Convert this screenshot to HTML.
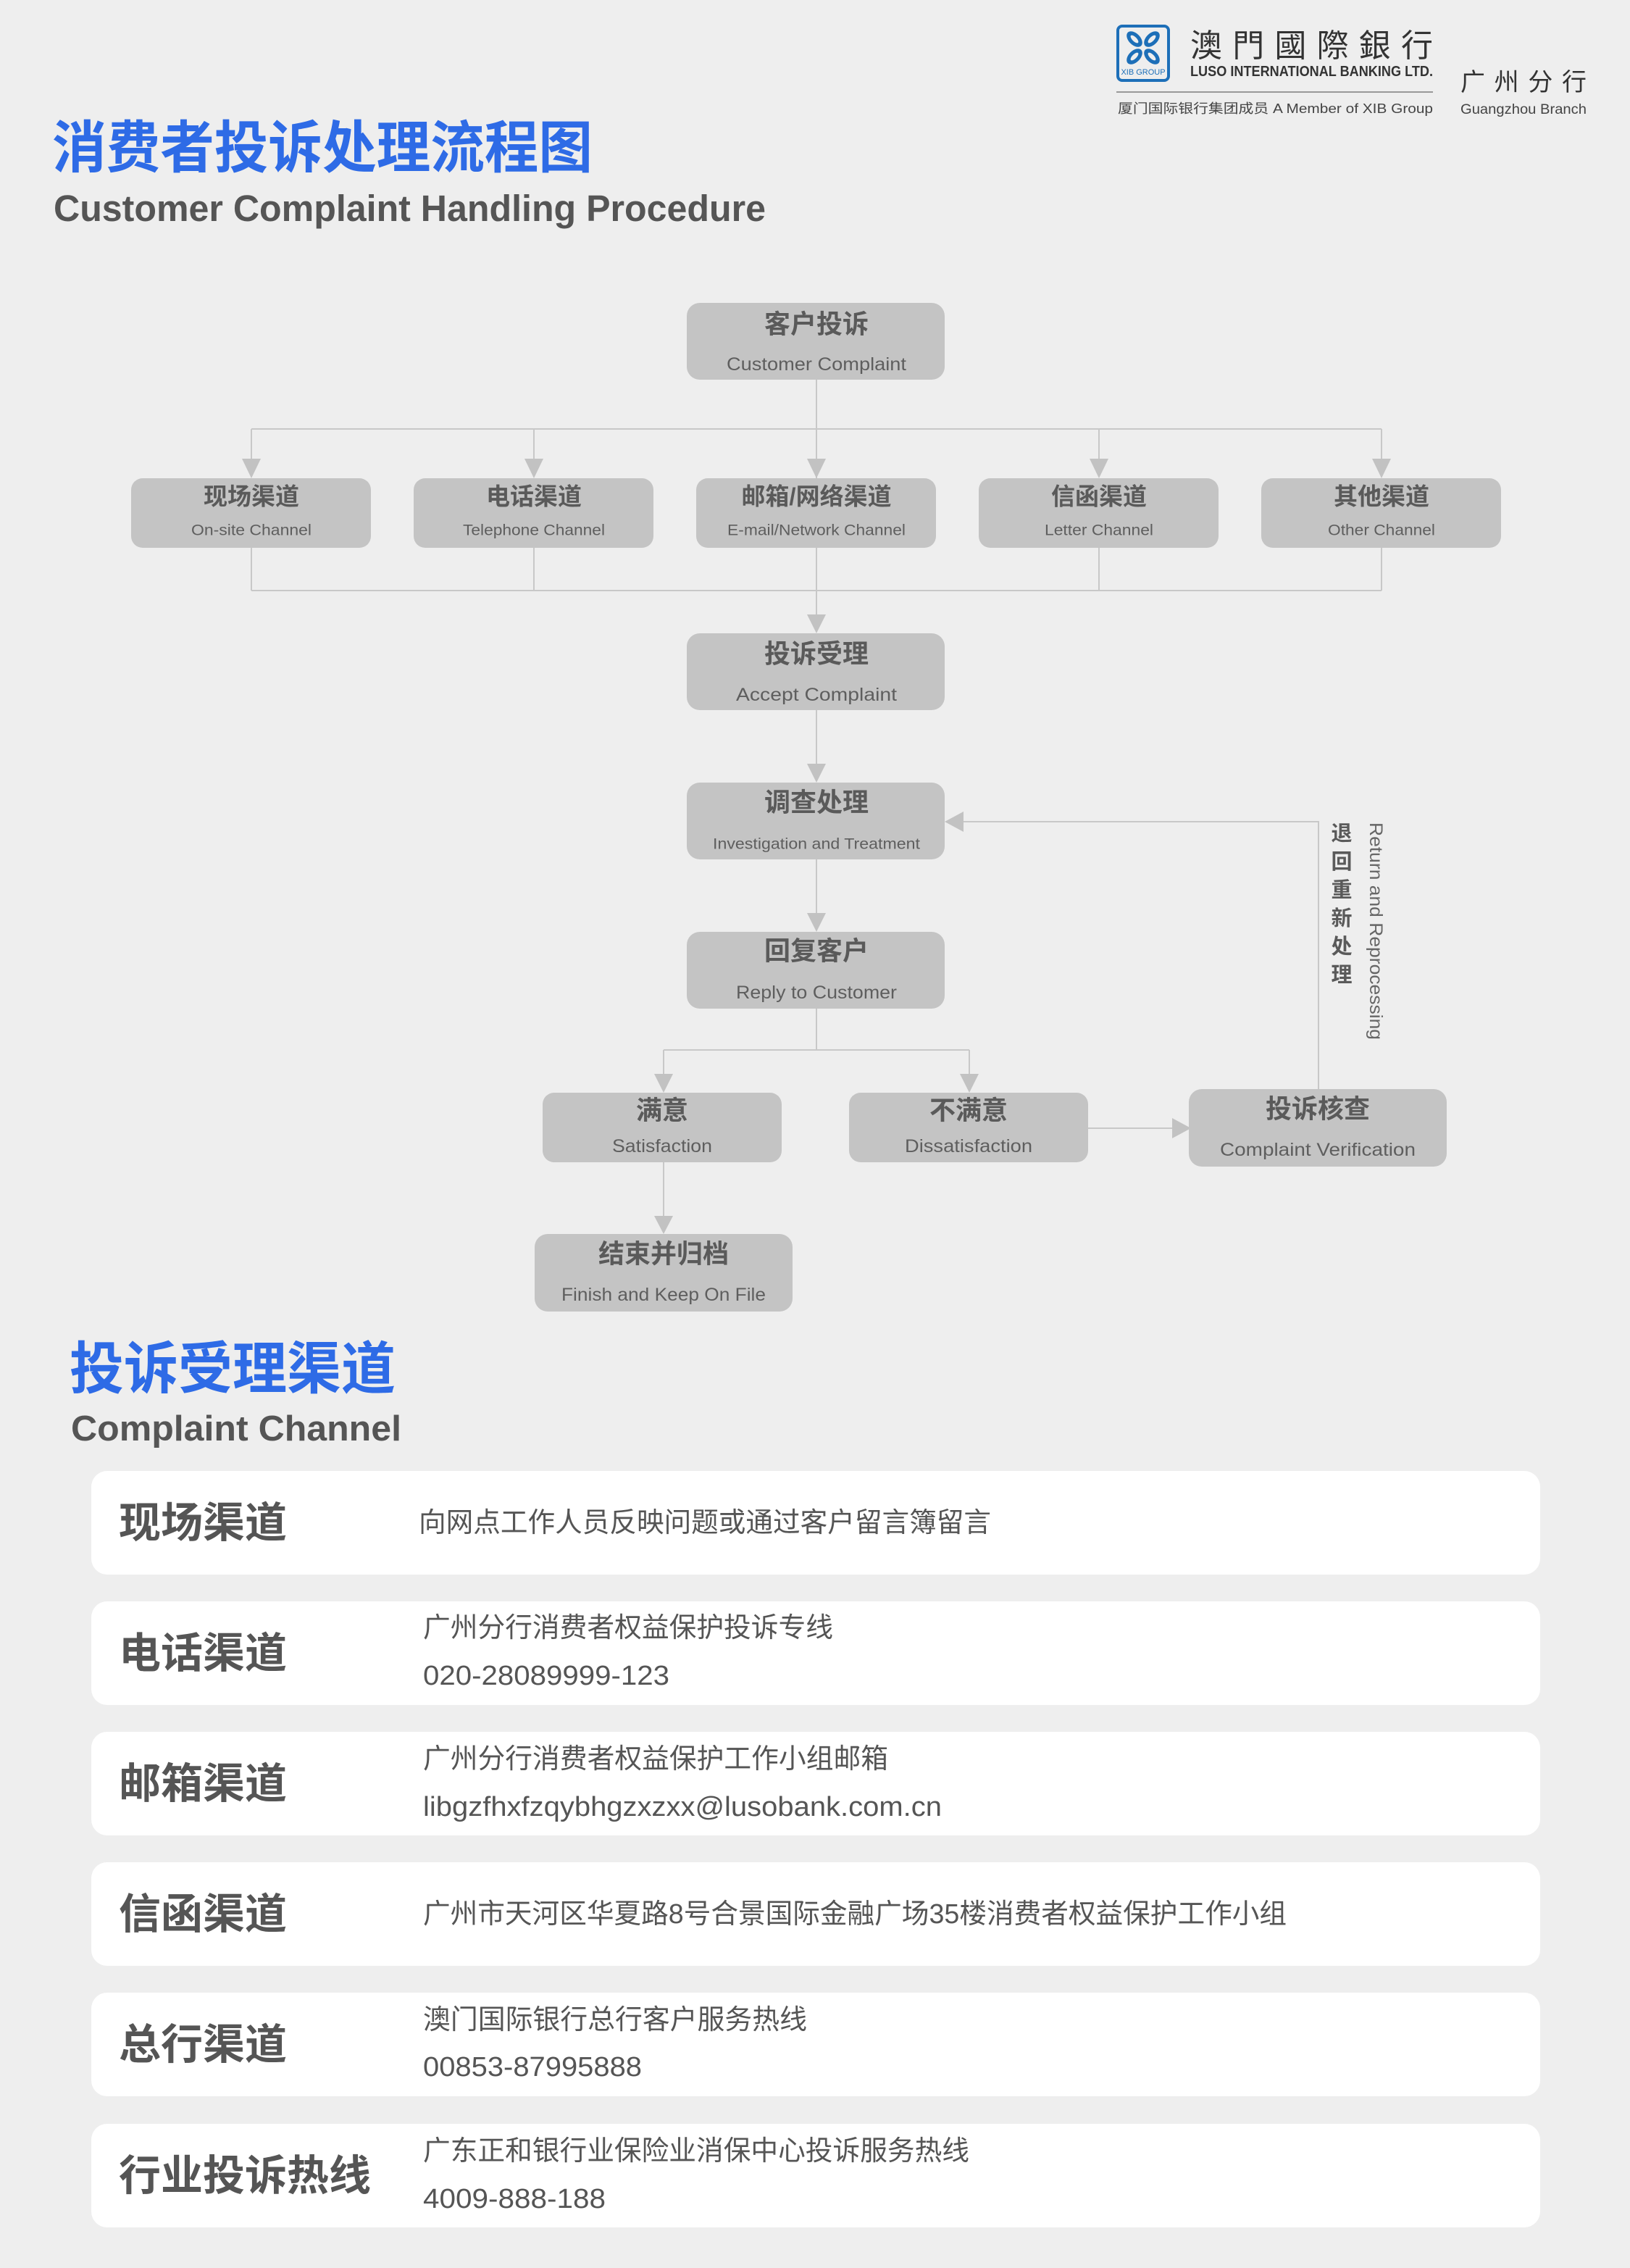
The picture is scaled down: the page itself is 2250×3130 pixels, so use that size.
<!DOCTYPE html>
<html><head><meta charset="utf-8"><style>
html,body{margin:0;padding:0;background:#eeeeee;}
svg{display:block;}
text{font-family:"Liberation Sans","Noto Sans CJK SC",sans-serif;}
.cn{font-weight:bold;fill:#5a5a5a;font-size:36px;text-anchor:middle;dominant-baseline:central;}
.cns{font-weight:bold;fill:#5a5a5a;font-size:33px;text-anchor:middle;dominant-baseline:central;}
.en{fill:#5e5e5e;font-size:25px;text-anchor:middle;dominant-baseline:central;}
.ens{fill:#5e5e5e;font-size:21px;text-anchor:middle;dominant-baseline:central;}
.node{fill:#c4c4c4;}
.ln{stroke:#c8c8c8;stroke-width:2;fill:none;}
.ar{fill:#c2c2c2;}
.lab{font-weight:bold;fill:#555;font-size:58px;dominant-baseline:central;}
.ct{fill:#555;font-size:38px;dominant-baseline:central;}
</style></head><body>
<svg width="2250" height="3130" viewBox="0 0 2250 3130" xmlns="http://www.w3.org/2000/svg">
<rect width="2250" height="3130" fill="#eeeeee"/>

<!-- Logo -->
<rect x="1543" y="36" width="70" height="75" rx="6" fill="none" stroke="#1d6fb8" stroke-width="4"/>
<g fill="#1d6fb8" transform="translate(1578,66)">
<ellipse cx="-12" cy="-12" rx="8" ry="13" transform="rotate(-45 -12 -12)"/>
<ellipse cx="12" cy="-12" rx="8" ry="13" transform="rotate(45 12 -12)"/>
<ellipse cx="-12" cy="12" rx="8" ry="13" transform="rotate(45 -12 12)"/>
<ellipse cx="12" cy="12" rx="8" ry="13" transform="rotate(-45 12 12)"/>
</g>
<g fill="#eeeeee" transform="translate(1578,66)">
<ellipse cx="-12" cy="-12" rx="3" ry="7" transform="rotate(-45 -12 -12)"/>
<ellipse cx="12" cy="-12" rx="3" ry="7" transform="rotate(45 12 -12)"/>
<ellipse cx="-12" cy="12" rx="3" ry="7" transform="rotate(45 -12 12)"/>
<ellipse cx="12" cy="12" rx="3" ry="7" transform="rotate(-45 12 12)"/>
</g>
<text x="1578" y="103" font-size="11" fill="#1d6fb8" text-anchor="middle">XIB GROUP</text>
<text x="1643" y="78" font-size="44" fill="#333" textLength="335" lengthAdjust="spacing">澳門國際銀行</text>
<text x="1643" y="105" font-size="20" font-weight="bold" fill="#333" textLength="335" lengthAdjust="spacingAndGlyphs">LUSO INTERNATIONAL BANKING LTD.</text>
<rect x="1541" y="126" width="437" height="2" fill="#999"/>
<text x="1543" y="156" font-size="18" fill="#444" textLength="435" lengthAdjust="spacingAndGlyphs">厦门国际银行集团成员 A Member of XIB Group</text>
<text x="2016" y="125" font-size="34" fill="#333" textLength="174" lengthAdjust="spacing">广州分行</text>
<text x="2016" y="157" font-size="19" fill="#444" textLength="174" lengthAdjust="spacingAndGlyphs">Guangzhou Branch</text>

<!-- Titles -->
<text x="72" y="231" font-size="78" font-weight="bold" fill="#2e6be6" textLength="746" lengthAdjust="spacingAndGlyphs">消费者投诉处理流程图</text>
<text x="74" y="305" font-size="51" font-weight="bold" fill="#555" textLength="983" lengthAdjust="spacingAndGlyphs">Customer Complaint Handling Procedure</text>

<!-- Connectors -->
<g class="ln">
<path d="M1127 524 V660"/>
<path d="M347 592 H1907"/>
<path d="M347 592 V640 M737 592 V640 M1517 592 V640 M1907 592 V640"/>
<path d="M347 756 V815 M737 756 V815 M1127 756 V815 M1517 756 V815 M1907 756 V815"/>
<path d="M347 815 H1907"/>
<path d="M1127 815 V860"/>
<path d="M1127 980 V1060"/>
<path d="M1127 1186 V1266"/>
<path d="M1127 1392 V1449 M916 1449 H1338 M916 1449 V1490 M1338 1449 V1490"/>
<path d="M916 1603 V1685"/>
<path d="M1502 1557 H1625"/>
<path d="M1820 1506 V1134 H1325"/>
</g>
<g class="ar">
<polygon points="334,633 360,633 347,660"/>
<polygon points="724,633 750,633 737,660"/>
<polygon points="1114,633 1140,633 1127,660"/>
<polygon points="1504,633 1530,633 1517,660"/>
<polygon points="1894,633 1920,633 1907,660"/>
<polygon points="1114,848 1140,848 1127,874"/>
<polygon points="1114,1054 1140,1054 1127,1080"/>
<polygon points="1114,1260 1140,1260 1127,1286"/>
<polygon points="903,1482 929,1482 916,1508"/>
<polygon points="1325,1482 1351,1482 1338,1508"/>
<polygon points="903,1678 929,1678 916,1703"/>
<polygon points="1618,1543 1618,1571 1644,1557"/>
<polygon points="1330,1120 1330,1148 1304,1134"/>
</g>

<!-- Nodes -->
<rect class="node" x="948" y="418" width="356" height="106" rx="18"/>
<text class="cn" x="1127" y="447">客户投诉</text>
<text class="en" x="1127" y="503" textLength="248" lengthAdjust="spacingAndGlyphs">Customer Complaint</text>

<rect class="node" x="181" y="660" width="331" height="96" rx="16"/>
<text class="cns" x="347" y="685">现场渠道</text>
<text class="ens" x="347" y="732" textLength="166" lengthAdjust="spacingAndGlyphs">On-site Channel</text>
<rect class="node" x="571" y="660" width="331" height="96" rx="16"/>
<text class="cns" x="737" y="685">电话渠道</text>
<text class="ens" x="737" y="732" textLength="196" lengthAdjust="spacingAndGlyphs">Telephone Channel</text>
<rect class="node" x="961" y="660" width="331" height="96" rx="16"/>
<text class="cns" x="1127" y="685">邮箱/网络渠道</text>
<text class="ens" x="1127" y="732" textLength="246" lengthAdjust="spacingAndGlyphs">E-mail/Network Channel</text>
<rect class="node" x="1351" y="660" width="331" height="96" rx="16"/>
<text class="cns" x="1517" y="685">信函渠道</text>
<text class="ens" x="1517" y="732" textLength="150" lengthAdjust="spacingAndGlyphs">Letter Channel</text>
<rect class="node" x="1741" y="660" width="331" height="96" rx="16"/>
<text class="cns" x="1907" y="685">其他渠道</text>
<text class="ens" x="1907" y="732" textLength="148" lengthAdjust="spacingAndGlyphs">Other Channel</text>

<rect class="node" x="948" y="874" width="356" height="106" rx="18"/>
<text class="cn" x="1127" y="902">投诉受理</text>
<text class="en" x="1127" y="959" textLength="222" lengthAdjust="spacingAndGlyphs">Accept  Complaint</text>

<rect class="node" x="948" y="1080" width="356" height="106" rx="18"/>
<text class="cn" x="1127" y="1107">调查处理</text>
<text class="ens" x="1127" y="1165" textLength="286" lengthAdjust="spacingAndGlyphs">Investigation and Treatment</text>

<rect class="node" x="948" y="1286" width="356" height="106" rx="18"/>
<text class="cn" x="1127" y="1312">回复客户</text>
<text class="en" x="1127" y="1370" textLength="222" lengthAdjust="spacingAndGlyphs">Reply to Customer</text>

<rect class="node" x="749" y="1508" width="330" height="96" rx="16"/>
<text class="cn" x="914" y="1532">满意</text>
<text class="en" x="914" y="1582" textLength="138" lengthAdjust="spacingAndGlyphs">Satisfaction</text>

<rect class="node" x="1172" y="1508" width="330" height="96" rx="16"/>
<text class="cn" x="1337" y="1532">不满意</text>
<text class="en" x="1337" y="1582" textLength="176" lengthAdjust="spacingAndGlyphs">Dissatisfaction</text>

<rect class="node" x="1641" y="1503" width="356" height="107" rx="18"/>
<text class="cn" x="1819" y="1530">投诉核查</text>
<text class="en" x="1819" y="1587" textLength="270" lengthAdjust="spacingAndGlyphs">Complaint Verification</text>

<rect class="node" x="738" y="1703" width="356" height="107" rx="18"/>
<text class="cn" x="916" y="1730">结束并归档</text>
<text class="en" x="916" y="1787" textLength="282" lengthAdjust="spacingAndGlyphs">Finish and Keep On File</text>

<!-- Return labels -->
<g font-size="29" font-weight="bold" fill="#5a5a5a" text-anchor="middle">
<text x="1852" y="1160">退</text>
<text x="1852" y="1199">回</text>
<text x="1852" y="1238">重</text>
<text x="1852" y="1277">新</text>
<text x="1852" y="1316">处</text>
<text x="1852" y="1355">理</text>
</g>
<text x="0" y="0" font-size="25" fill="#666" transform="translate(1891,1135) rotate(90)" textLength="300" lengthAdjust="spacingAndGlyphs">Return and Reprocessing</text>

<!-- Section 2 -->
<text x="96" y="1916" font-size="78" font-weight="bold" fill="#2e6be6" textLength="450" lengthAdjust="spacingAndGlyphs">投诉受理渠道</text>
<text x="98" y="1988" font-size="49" font-weight="bold" fill="#555" textLength="456" lengthAdjust="spacingAndGlyphs">Complaint Channel</text>

<g fill="#ffffff">
<rect x="126" y="2030" width="2000" height="143" rx="22"/>
<rect x="126" y="2210" width="2000" height="143" rx="22"/>
<rect x="126" y="2390" width="2000" height="143" rx="22"/>
<rect x="126" y="2570" width="2000" height="143" rx="22"/>
<rect x="126" y="2750" width="2000" height="143" rx="22"/>
<rect x="126" y="2931" width="2000" height="143" rx="22"/>
</g>

<text class="lab" x="164" y="2102" textLength="232" lengthAdjust="spacingAndGlyphs">现场渠道</text>
<text class="ct" x="578" y="2102" textLength="790" lengthAdjust="spacingAndGlyphs">向网点工作人员反映问题或通过客户留言簿留言</text>

<text class="lab" x="164" y="2282" textLength="232" lengthAdjust="spacingAndGlyphs">电话渠道</text>
<text class="ct" x="584" y="2247" textLength="566" lengthAdjust="spacingAndGlyphs">广州分行消费者权益保护投诉专线</text>
<text class="ct" x="584" y="2313" textLength="340" lengthAdjust="spacingAndGlyphs">020-28089999-123</text>

<text class="lab" x="164" y="2462" textLength="232" lengthAdjust="spacingAndGlyphs">邮箱渠道</text>
<text class="ct" x="584" y="2428" textLength="642" lengthAdjust="spacingAndGlyphs">广州分行消费者权益保护工作小组邮箱</text>
<text class="ct" x="584" y="2494" textLength="716" lengthAdjust="spacingAndGlyphs">libgzfhxfzqybhgzxzxx@lusobank.com.cn</text>

<text class="lab" x="164" y="2642" textLength="232" lengthAdjust="spacingAndGlyphs">信函渠道</text>
<text class="ct" x="584" y="2642" textLength="1192" lengthAdjust="spacingAndGlyphs">广州市天河区华夏路8号合景国际金融广场35楼消费者权益保护工作小组</text>

<text class="lab" x="164" y="2822" textLength="232" lengthAdjust="spacingAndGlyphs">总行渠道</text>
<text class="ct" x="584" y="2788" textLength="530" lengthAdjust="spacingAndGlyphs">澳门国际银行总行客户服务热线</text>
<text class="ct" x="584" y="2853" textLength="302" lengthAdjust="spacingAndGlyphs">00853-87995888</text>

<text class="lab" x="164" y="3003" textLength="348" lengthAdjust="spacingAndGlyphs">行业投诉热线</text>
<text class="ct" x="584" y="2969" textLength="754" lengthAdjust="spacingAndGlyphs">广东正和银行业保险业消保中心投诉服务热线</text>
<text class="ct" x="584" y="3035" textLength="252" lengthAdjust="spacingAndGlyphs">4009-888-188</text>
</svg>
</body></html>
